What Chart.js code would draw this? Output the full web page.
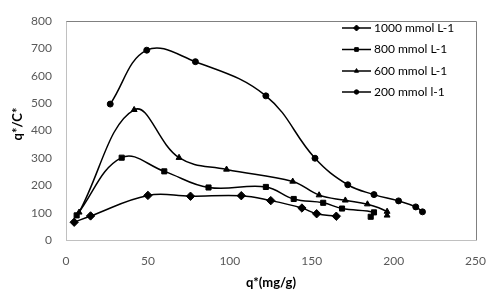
<!DOCTYPE html>
<html>
<head>
<meta charset="utf-8">
<script src="https://cdn.jsdelivr.net/npm/chart.js@4.4.0/dist/chart.umd.min.js"></script>
<style>
html,body{margin:0;padding:0;background:#fff;}
#wrap{width:500px;height:295px;position:relative;}
</style>
</head>
<body>
<div id="wrap"><canvas id="c" width="500" height="295"></canvas></div>
<script>
// ---- data ----
const seriesNames = ["1000 mmol L-1", "800 mmol L-1", "600 mmol L-1", "200 mmol l-1"];
const x1000 = [5, 15, 50, 76, 107, 125, 144, 153, 165];
const y1000 = [65, 88, 163, 160, 162, 144, 117, 96, 87];
const x800 = [6.5, 34, 60, 87, 122, 139, 157, 168.5, 188, 186];
const y800 = [90, 301, 251, 192, 194, 150, 136, 115, 101, 85];
const x600 = [8, 41.6, 69, 98, 138.4, 154.5, 170.5, 184, 196, 196];
const y600 = [101, 476, 301, 258, 214, 164, 145, 131, 104, 90];
const x200 = [27, 49.3, 79, 122, 152, 172, 188, 203, 213.5, 217.6];
const y200 = [497, 694, 652, 527, 299, 202, 166, 143, 121, 103];
const xTicks = [0, 50, 100, 150, 200, 250];
const yTicks = [0, 100, 200, 300, 400, 500, 600, 700, 800];
const xTitle = "q*(mg/g)";
const yTitle = "q*/C*";

const pts = (xs, ys) => xs.map((x, i) => ({x: x, y: ys[i]}));
const styles = [
  {pointStyle: 'rectRot', radius: 4.2, legendRadius: 3},
  {pointStyle: 'rect', radius: 3.6, legendRadius: 2.6},
  {pointStyle: 'triangle', radius: 3.4, legendRadius: 2.4},
  {pointStyle: 'circle', radius: 3, legendRadius: 2.2}
];
const allData = [pts(x1000, y1000), pts(x800, y800), pts(x600, y600), pts(x200, y200)];

const datasets = allData.map((d, i) => ({
  label: seriesNames[i],
  data: d,
  showLine: true,
  borderColor: '#000',
  backgroundColor: '#000',
  borderWidth: 1.5,
  pointStyle: styles[i].pointStyle,
  pointRadius: styles[i].radius,
  pointHoverRadius: styles[i].radius,
  pointBorderWidth: 1,
  pointBorderColor: '#000',
  pointBackgroundColor: '#000',
  tension: 0.4,
  fill: false
}));

const FONT = 'Lato, "Open Sans", "DejaVu Sans", sans-serif';

const decor = {
  id: 'decor',
  afterDraw(chart) {
    const ctx = chart.ctx;
    const a = chart.chartArea;
    ctx.save();
    // plot-area top/right border
    ctx.strokeStyle = '#808080';
    ctx.lineWidth = 1;
    ctx.beginPath();
    ctx.moveTo(Math.round(a.left) + 0.5, Math.round(a.top) + 0.5);
    ctx.lineTo(Math.round(a.right) + 0.5, Math.round(a.top) + 0.5);
    ctx.lineTo(Math.round(a.right) + 0.5, Math.round(a.bottom) + 0.5);
    ctx.stroke();
    // axis titles
    ctx.fillStyle = '#000';
    ctx.font = 'bold 13px ' + FONT;
    ctx.textAlign = 'center';
    ctx.textBaseline = 'middle';
    ctx.fillText(xTitle, 271, 283);
    ctx.translate(18, 124);
    ctx.rotate(-Math.PI / 2);
    ctx.fillText(yTitle, 0, 0);
    ctx.restore();
    // legend
    ctx.save();
    ctx.font = '12px ' + FONT;
    ctx.textAlign = 'left';
    ctx.textBaseline = 'middle';
    const rows = [28, 49.5, 71, 92];
    seriesNames.forEach((name, i) => {
      const y = rows[i];
      ctx.strokeStyle = '#000';
      ctx.lineWidth = 1.5;
      ctx.beginPath();
      ctx.moveTo(342, y);
      ctx.lineTo(371, y);
      ctx.stroke();
      ctx.fillStyle = '#000';
      ctx.lineWidth = 1;
      Chart.helpers.drawPoint(ctx, {
        pointStyle: styles[i].pointStyle,
        radius: styles[i].legendRadius,
        rotation: 0,
        borderWidth: 1
      }, 356.5, y);
      ctx.fillStyle = '#000';
      ctx.fillText(name, 374, y);
    });
    ctx.restore();
  }
};

new Chart(document.getElementById('c'), {
  type: 'scatter',
  data: {datasets: datasets},
  options: {
    responsive: false,
    animation: false,
    devicePixelRatio: 1,
    layout: {padding: {left: 0, right: 22, top: 8, bottom: 0}},
    plugins: {legend: {display: false}, tooltip: {enabled: false}},
    scales: {
      x: {
        type: 'linear', min: 0, max: 250,
        afterFit(s) { s.height = 55; },
        afterBuildTicks(s) { s.ticks = xTicks.map(v => ({value: v})); },
        grid: {display: false, drawTicks: false},
        border: {display: true, color: '#c0c0c0', width: 1},
        ticks: {color: '#595959', font: {family: FONT, size: 12}, padding: 14}
      },
      y: {
        type: 'linear', min: 0, max: 800,
        afterFit(s) { s.width = 66; },
        afterBuildTicks(s) { s.ticks = yTicks.map(v => ({value: v})); },
        grid: {display: false, drawTicks: false},
        border: {display: true, color: '#c0c0c0', width: 1},
        ticks: {color: '#595959', font: {family: FONT, size: 12}, padding: 14}
      }
    }
  },
  plugins: [decor]
});
</script>
</body>
</html>
